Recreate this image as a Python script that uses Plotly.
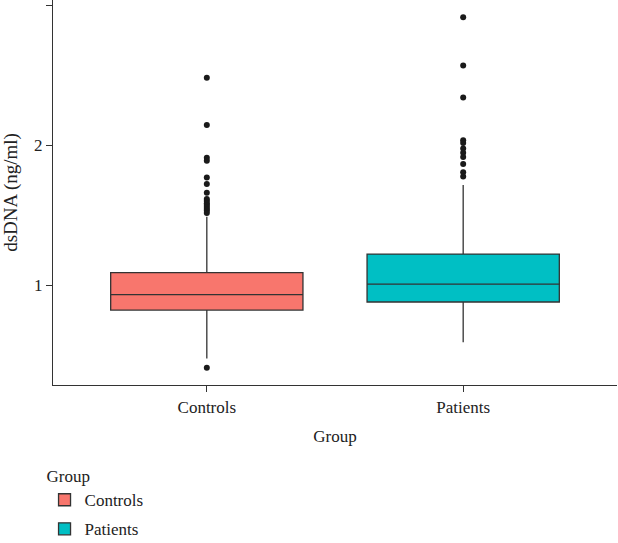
import plotly.graph_objects as go

groups = ["Controls", "Patients"]
colors = ["#F8766D", "#00BFC4"]

q1 = [0.821, 0.879]
median = [0.931, 1.007]
q3 = [1.088, 1.221]
lower_whisker = [0.476, 0.591]
upper_whisker = [1.488, 1.714]

controls_outliers = [2.481, 2.143, 1.909, 1.888, 1.769, 1.721, 1.659,
                     1.614, 1.600, 1.585, 1.572, 1.557, 1.543, 1.530, 1.515, 0.409]
patients_outliers = [2.912, 2.569, 2.340, 2.035, 2.015, 1.975, 1.945,
                     1.915, 1.865, 1.805, 1.775]
outliers = [controls_outliers, patients_outliers]

FONT = "Liberation Serif, Times New Roman, serif"
TXT = "#222222"
fig = go.Figure()

for i, g in enumerate(groups):
    fig.add_trace(go.Box(
        x=[g], q1=[q1[i]], median=[median[i]], q3=[q3[i]],
        lowerfence=[lower_whisker[i]], upperfence=[upper_whisker[i]],
        name=g, legendgroup=g, fillcolor=colors[i],
        line=dict(color="#333333", width=1.3),
        width=0.75, boxpoints=False, hoverinfo="skip",
        whiskerwidth=0,
    ))
    fig.add_trace(go.Scatter(
        x=[g] * len(outliers[i]), y=outliers[i], mode="markers",
        marker=dict(color="#1a1a1a", size=6), showlegend=False,
        legendgroup=g, hoverinfo="skip",
    ))

fig.update_layout(
    width=618, height=543,
    margin=dict(l=53, r=1, t=0, b=158, autoexpand=False),
    paper_bgcolor="white", plot_bgcolor="white",
    boxmode="overlay",
    font=dict(family=FONT, size=17, color=TXT),
    legend=dict(
        title=dict(text="Group", font=dict(family=FONT, size=17, color=TXT)),
        orientation="v", x=-0.015, xanchor="left", y=-0.195, yanchor="top",
        tracegroupgap=4, font=dict(family=FONT, size=17, color=TXT),
        bgcolor="rgba(0,0,0,0)",
    ),
    xaxis=dict(
        categoryorder="array", categoryarray=groups,
        range=[-0.6, 1.6], showline=True, linecolor="#333333", linewidth=1.2,
        ticks="outside", ticklen=6, tickcolor="#333333", tickwidth=1.2,
        showgrid=False, zeroline=False,
        title=dict(text="Group", standoff=14, font=dict(family=FONT, size=17, color=TXT)),
        tickfont=dict(family=FONT, size=17, color=TXT),
    ),
    yaxis=dict(
        range=[0.286, 3.036], tickvals=[1, 2, 3], ticktext=["1", "2", "3"],
        showline=True, linecolor="#333333", linewidth=1.2,
        ticks="outside", ticklen=6, tickcolor="#333333", tickwidth=1.2,
        showgrid=False, zeroline=False,
        title=dict(text="dsDNA (ng/ml)", standoff=17, font=dict(family=FONT, size=19, color=TXT)),
        tickfont=dict(family=FONT, size=17, color=TXT),
    ),
)

fig.write_html("out.html")
